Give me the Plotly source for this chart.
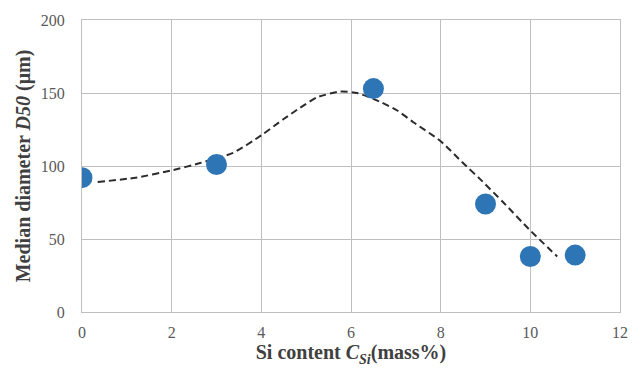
import plotly.graph_objects as go

si_content = [0, 3, 6.5, 9, 10, 11]
d50 = [92, 101, 153, 74, 38, 39]

trend_x = [0.35, 1.2, 2.0, 2.63, 3.37, 4.0, 4.49, 4.87, 5.24, 5.76, 6.14, 6.65, 7.03, 7.39, 8.0, 8.5, 8.88, 9.4, 9.96, 10.6]
trend_y = [89, 92, 97, 102, 109, 121, 132, 140, 147, 151, 150, 144, 138, 130, 117, 102, 91, 75, 57, 38]

x_ticks = [0, 2, 4, 6, 8, 10, 12]
y_ticks = [0, 50, 100, 150, 200]

fig = go.Figure()
fig.add_trace(go.Scatter(x=trend_x, y=trend_y, mode="lines", line=dict(color="#2b2b2b", width=2, dash="7px,4px", shape="spline", smoothing=0.6), hoverinfo="skip", showlegend=False))
fig.add_trace(go.Scatter(x=si_content, y=d50, mode="markers", marker=dict(color="#2e75b6", size=21), showlegend=False))

font_serif = "Liberation Serif, Times New Roman, serif"
fig.update_layout(
    width=643, height=376,
    margin=dict(l=82, r=23, t=14, b=64),
    paper_bgcolor="white", plot_bgcolor="white",
    font=dict(family=font_serif, color="#595959", size=16),
)
fig.update_xaxes(range=[0, 12], tickvals=x_ticks, showgrid=True, gridcolor="#bfbfbf", gridwidth=1.3,
                 zeroline=False, showline=True, linecolor="#bfbfbf", linewidth=1.3, mirror=True,
                 ticks="outside", ticklen=6, tickcolor="white",
                 title=dict(text="<b>Si content <i>C</i><sub><i>Si</i></sub>(mass%)</b>", font=dict(size=20, color="#404040", family=font_serif), standoff=4))
fig.update_yaxes(range=[0, 200], tickvals=y_ticks, showgrid=True, gridcolor="#bfbfbf", gridwidth=1.3,
                 zeroline=False, showline=True, linecolor="#bfbfbf", linewidth=1.3, mirror=True,
                 ticks="outside", ticklen=13, tickcolor="white",
                 title=dict(text="<b>Median diameter <i>D50</i> (μm)</b>", font=dict(size=20, color="#404040", family=font_serif), standoff=4))
fig.write_html("out.html")
